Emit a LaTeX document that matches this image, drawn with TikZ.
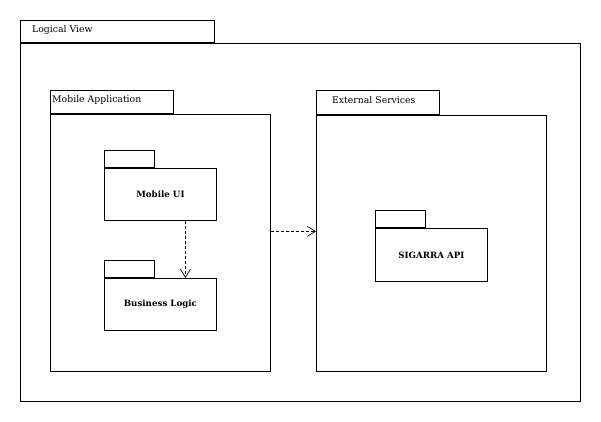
\documentclass[tikz,border=0pt]{standalone}
\usepackage{fontspec}
\setmainfont{DejaVu Serif}
\usetikzlibrary{positioning,arrows.meta}

\tikzset{
  pkg/.style={draw, line width=0.9pt, inner sep=0pt, anchor=north west},
  pkgname/.style={inner sep=0pt, anchor=west, font=\fontsize{9.3}{11}\selectfont},
  inner/.style={pkg, minimum width=112pt, minimum height=52pt, font=\fontsize{8.7}{10}\selectfont\bfseries},
  innertab/.style={pkg, minimum width=50pt, minimum height=17pt},
  dep/.style={line width=0.7pt, dash pattern=on 3pt off 2pt, -{Straight Barb[length=8pt,width=10pt]}}
}

\begin{document}
\begin{tikzpicture}[x=1pt,y=-1pt]
		\fill [white] (0,0) rectangle (601,421);
		\useasboundingbox (0,0) rectangle (601,421);
		
		% logical view
		\node [pkg, minimum width=194pt, minimum height=22pt] (lvtab) at (20,20) {};
		\node [pkg, minimum width=560pt, minimum height=358pt] (lv) at (lvtab.south west) {};
		\node [pkgname] (lvname) at ([xshift=12pt,yshift=1.5pt]lvtab.west) {Logical View};
		
		% mobile application
		\node [pkg, minimum width=123pt, minimum height=23pt] (apptab) at (50,90) {};
		\node [pkg, minimum width=220pt, minimum height=257pt] (app) at (apptab.south west) {};
		\node [pkgname] (appname) at ([xshift=2pt,yshift=2pt]apptab.west) {Mobile Application};
		
		\node [innertab] (uitab) at (104,150) {};
		\node [inner] (ui) at (uitab.south west) {Mobile UI};
		\node [innertab] (bltab) at (104,260) {};
		\node [inner] (bl) at (bltab.south west) {Business Logic};
		
		% external services
		\node [pkg, minimum width=123pt, minimum height=24pt] (exttab) at (316,90) {};
		\node [pkg, minimum width=230pt, minimum height=256pt] (ext) at (exttab.south west) {};
		\node [pkgname] (extname) at ([xshift=16pt,yshift=2.5pt]exttab.west) {External Services};
		
		\node [innertab] (sigtab) at (375,210) {};
		\node [inner, minimum height=53pt] (sig) at (sigtab.south west) {SIGARRA API};
		
		% dependencies
		\draw [dep] ([xshift=25pt]ui.south) -- ([xshift=25pt]bl.north);
		\draw [dep] ([yshift=11.5pt]app.east) -- ([yshift=11.5pt]app.east -| ext.west);
\end{tikzpicture}
\end{document}
